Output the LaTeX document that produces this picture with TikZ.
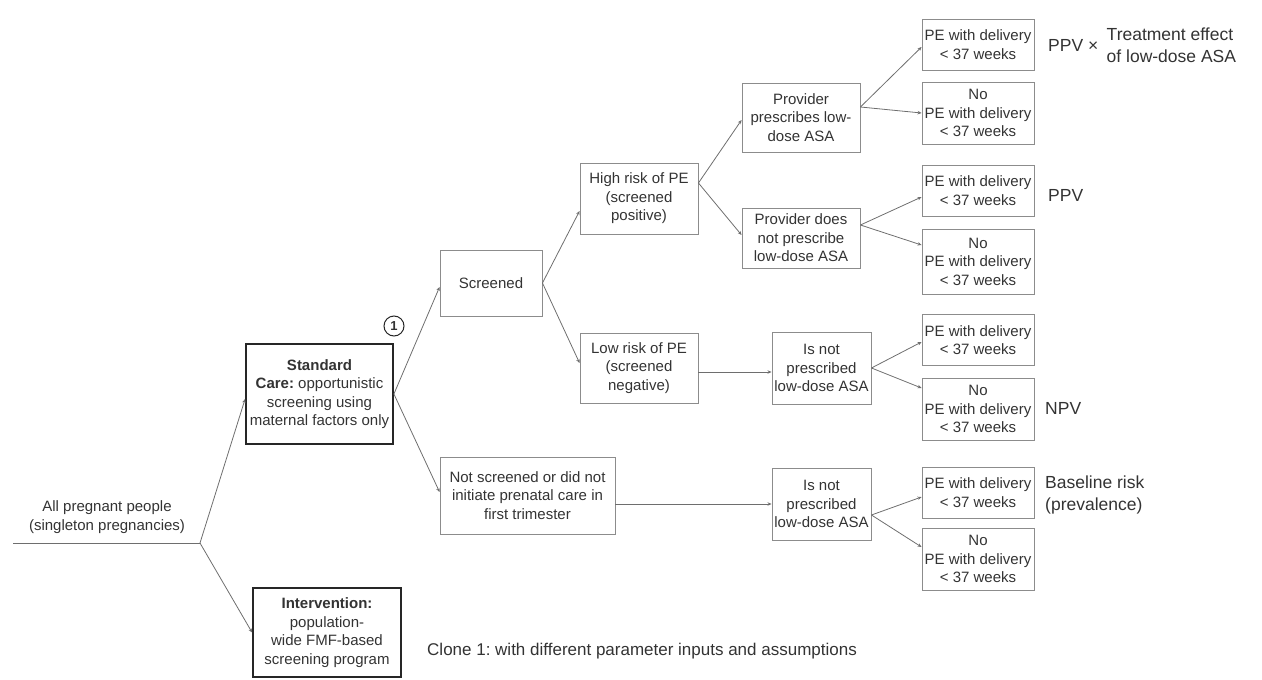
\documentclass[tikz,border=0pt]{standalone}
\usepackage{fontspec}
\setmainfont{Liberation Sans}
\usepackage{tikz}
\usetikzlibrary{positioning,arrows.meta}
\definecolor{txt}{HTML}{333333}
\definecolor{edge}{HTML}{6E6E6E}
\definecolor{frame}{HTML}{8C8C8C}
\frenchspacing

\begin{document}
\begin{tikzpicture}[
  x=1pt, y=-1pt,
  every node/.style={font=\fontsize{15}{18.5}\selectfont, text=txt},
  box/.style={rectangle, draw=frame, line width=0.9pt, align=center, inner sep=1pt},
  mainbox/.style={box, draw=black!85, line width=1.8pt},
  pe/.style={box, minimum width=112pt, minimum height=51pt},
  nope/.style={box, minimum width=112pt, minimum height=62pt},
  note/.style={font=\fontsize{17.5}{22}\selectfont, align=left, anchor=west, inner sep=0pt},
  arr/.style={draw=edge, line width=0.8pt, -{Stealth[length=4pt,width=3.5pt]}},
]
  \useasboundingbox (0,0) rectangle (1262,680);

  \node[align=center] (all) at (107,517) {All pregnant people\\(singleton pregnancies)};
  \coordinate (start) at (13,543);
  \coordinate (split) at (200,543);
  \node[mainbox, minimum width=147pt, minimum height=100pt] (std) at (319.5,394) {\textbf{Standard}\\\textbf{Care:} opportunistic\\screening using\\maternal factors only};
  \node[mainbox, minimum width=148pt, minimum height=89pt] (intv) at (327,632.5) {\textbf{Intervention:}\\population-\\wide FMF-based\\screening program};
  \node[circle, draw=black!85, line width=1pt, minimum size=20pt, inner sep=0pt, font=\fontsize{13}{13}\selectfont\bfseries] (c1) at (394,326) {1};

  \node[box, minimum width=102pt, minimum height=66pt] (scr) at (491,283) {Screened};
  \node[box, minimum width=175pt, minimum height=77pt] (nscr) at (527.5,495.5) {Not screened or did not\\initiate prenatal care in\\first trimester};
  \node[box, minimum width=118pt, minimum height=71pt] (high) at (639,198.5) {High risk of PE\\(screened\\positive)};
  \node[box, minimum width=118pt, minimum height=70pt] (low) at (639,368) {Low risk of PE\\(screened\\negative)};
  \node[box, minimum width=118pt, minimum height=69pt] (pres) at (801,117.5) {Provider\\prescribes low-\\dose ASA};
  \node[box, minimum width=118pt, minimum height=60pt] (npres) at (801,238) {Provider does\\not prescribe\\low-dose ASA};
  \node[box, minimum width=99pt, minimum height=72pt] (isnot1) at (821.5,368) {Is not\\prescribed\\low-dose ASA};
  \node[box, minimum width=99pt, minimum height=72pt] (isnot2) at (821.5,504) {Is not\\prescribed\\low-dose ASA};

  % outcomes
  \node[pe] (o1) at (978,44.5) {PE with delivery\\< 37 weeks};
  \node[nope] (o2) at (978,113) {No\\PE with delivery\\< 37 weeks};
  \node[pe] (o3) at (978,190.5) {PE with delivery\\< 37 weeks};
  \node[box, minimum width=112pt, minimum height=65pt] (o4) at (978,261.5) {No\\PE with delivery\\< 37 weeks};
  \node[pe] (o5) at (978,340) {PE with delivery\\< 37 weeks};
  \node[nope] (o6) at (978,409) {No\\PE with delivery\\< 37 weeks};
  \node[pe] (o7) at (978,492.5) {PE with delivery\\< 37 weeks};
  \node[nope] (o8) at (978,559) {No\\PE with delivery\\< 37 weeks};

  \node[note] (ppv1) at (1048,45) {PPV ×};
  \node[note, right=8pt of ppv1] (treat) {Treatment effect\\of low-dose ASA};
  \node[note] (ppv2) at (1048,195) {PPV};
  \node[note] (npv) at (1045,408) {NPV};
  \node[note] (base) at (1045,495) {Baseline risk\\(prevalence)};
  \node[note, font=\fontsize{17}{20}\selectfont] (clone) at (427,651) {Clone 1: with different parameter inputs and assumptions};

  \draw[draw=edge, line width=0.8pt] (start) -- (split);
  \draw[arr] (split) -- ([yshift=-5pt]std.west);
  \draw[arr] (split) -- (intv.west);
  \draw[arr] (std.east) -- ([yshift=-4pt]scr.west);
  \draw[arr] (std.east) -- ([yshift=3.5pt]nscr.west);
  \draw[arr] (scr.east) -- ([yshift=-12.5pt]high.west);
  \draw[arr] (scr.east) -- ([yshift=5pt]low.west);
  \draw[arr] ([yshift=15.5pt]high.east) -- ([yshift=-2.5pt]pres.west);
  \draw[arr] ([yshift=15.5pt]high.east) -- ([yshift=3pt]npres.west);
  \draw[arr] ([yshift=-4pt]low.east) -- ([yshift=-4pt]isnot1.west);
  \draw[arr] ([yshift=-8.5pt]nscr.east) -- (isnot2.west);
  \draw[arr] ([yshift=10.5pt]pres.east) -- ([yshift=-2.5pt]o1.west);
  \draw[arr] ([yshift=10.5pt]pres.east) -- (o2.west);
  \draw[arr] ([yshift=13pt]npres.east) -- ([yshift=-6.5pt]o3.west);
  \draw[arr] ([yshift=13pt]npres.east) -- ([yshift=16.5pt]o4.west);
  \draw[arr] (isnot1.east) -- ([yshift=-2pt]o5.west);
  \draw[arr] (isnot1.east) -- ([yshift=21pt]o6.west);
  \draw[arr] ([yshift=-11pt]isnot2.east) -- ([yshift=-4.5pt]o7.west);
  \draw[arr] ([yshift=-11pt]isnot2.east) -- ([yshift=12pt]o8.west);
\end{tikzpicture}
\end{document}
